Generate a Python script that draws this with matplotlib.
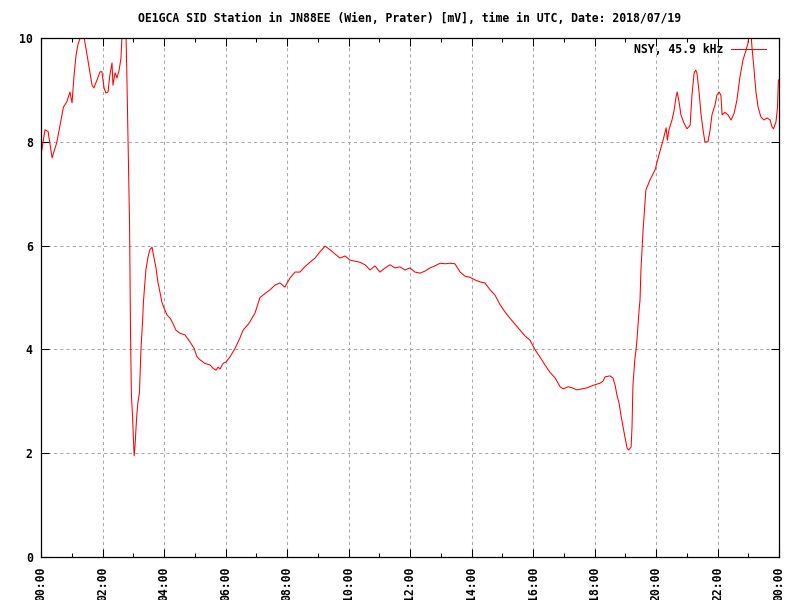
import matplotlib
matplotlib.use('Agg')
import matplotlib.pyplot as plt
from matplotlib.ticker import MultipleLocator, FuncFormatter

# time in hours (UTC) and signal in mV
hours = [0.00, 0.13, 0.23, 0.36, 0.51, 0.73, 0.84, 0.94, 1.01, 1.07, 1.14, 1.20,
         1.30, 1.40, 1.54, 1.66, 1.72, 1.82, 1.92, 1.98, 2.05, 2.11, 2.18, 2.24,
         2.31, 2.34, 2.41, 2.47, 2.54, 2.60, 2.67, 2.73, 2.79, 2.83, 2.88, 2.91,
         2.94, 2.98, 3.01, 3.03, 3.06, 3.09, 3.12, 3.15, 3.20, 3.22, 3.25, 3.28,
         3.31, 3.33, 3.38, 3.41, 3.48, 3.54, 3.61, 3.67, 3.74, 3.80, 3.87, 3.93,
         4.00, 4.10, 4.20, 4.29, 4.39, 4.52, 4.68, 4.85, 4.98, 5.07, 5.17, 5.33,
         5.50, 5.59, 5.69, 5.76, 5.82, 5.92, 6.02, 6.15, 6.31, 6.47, 6.57, 6.76,
         6.96, 7.12, 7.45, 7.61, 7.77, 7.93, 8.10, 8.26, 8.42, 8.59, 8.75, 8.91,
         9.07, 9.24, 9.40, 9.56, 9.72, 9.89, 10.05, 10.37, 10.54, 10.70, 10.86, 11.02,
         11.19, 11.35, 11.51, 11.67, 11.84, 12.00, 12.16, 12.33, 12.49, 12.65, 12.81, 12.98,
         13.14, 13.30, 13.46, 13.63, 13.79, 13.95, 14.11, 14.28, 14.44, 14.60, 14.76, 14.93,
         15.09, 15.25, 15.41, 15.58, 15.74, 15.90, 16.07, 16.23, 16.39, 16.55, 16.72, 16.88,
         16.98, 17.14, 17.27, 17.43, 17.59, 17.76, 17.92, 18.08, 18.18, 18.28, 18.34, 18.50,
         18.60, 18.67, 18.73, 18.80, 18.86, 18.93, 18.99, 19.06, 19.11, 19.19, 19.22, 19.25,
         19.31, 19.35, 19.38, 19.41, 19.45, 19.48, 19.51, 19.58, 19.67, 19.80, 19.97, 20.07,
         20.23, 20.33, 20.37, 20.42, 20.52, 20.59, 20.65, 20.69, 20.75, 20.81, 20.91, 21.01,
         21.11, 21.17, 21.24, 21.29, 21.33, 21.40, 21.46, 21.53, 21.59, 21.69, 21.76, 21.82,
         21.92, 21.98, 22.05, 22.11, 22.15, 22.24, 22.34, 22.44, 22.54, 22.63, 22.73, 22.83,
         22.93, 22.99, 23.04, 23.09, 23.12, 23.19, 23.25, 23.32, 23.41, 23.51, 23.61, 23.71,
         23.77, 23.82, 23.90, 23.95, 23.98]
nsy_mv = [7.75, 8.23, 8.20, 7.69, 7.98, 8.67, 8.77, 8.96, 8.75, 9.25, 9.67, 9.87,
          10.05, 10.02, 9.52, 9.09, 9.04, 9.19, 9.35, 9.35, 9.04, 8.94, 8.96, 9.29,
          9.52, 9.09, 9.33, 9.23, 9.38, 9.61, 10.50, 11.00, 9.35, 8.00, 6.40, 4.37,
          3.12, 2.68, 2.20, 1.95, 2.16, 2.49, 2.77, 2.97, 3.16, 3.47, 3.99, 4.32,
          4.62, 4.91, 5.30, 5.53, 5.78, 5.92, 5.97, 5.78, 5.57, 5.30, 5.10, 4.91,
          4.80, 4.66, 4.60, 4.50, 4.37, 4.31, 4.28, 4.14, 4.02, 3.86, 3.80, 3.73,
          3.70, 3.64, 3.60, 3.66, 3.62, 3.73, 3.76, 3.86, 4.02, 4.22, 4.37, 4.50,
          4.70, 5.00, 5.15, 5.24, 5.28, 5.20, 5.38, 5.49, 5.49, 5.60, 5.68, 5.76,
          5.88, 5.99, 5.92, 5.84, 5.76, 5.80, 5.72, 5.68, 5.63, 5.53, 5.61, 5.49,
          5.57, 5.63, 5.57, 5.59, 5.53, 5.57, 5.49, 5.47, 5.51, 5.57, 5.61, 5.66,
          5.65, 5.66, 5.65, 5.49, 5.41, 5.39, 5.34, 5.30, 5.28, 5.15, 5.05, 4.86,
          4.72, 4.60, 4.49, 4.37, 4.26, 4.18, 3.99, 3.85, 3.70, 3.56, 3.45, 3.28,
          3.24, 3.28, 3.26, 3.22, 3.24, 3.26, 3.30, 3.33, 3.35, 3.39, 3.47, 3.49,
          3.45, 3.31, 3.12, 2.96, 2.73, 2.50, 2.31, 2.10, 2.06, 2.12, 2.50, 3.31,
          3.80, 3.99, 4.18, 4.43, 4.76, 4.95, 5.53, 6.30, 7.07, 7.26, 7.46, 7.69,
          8.03, 8.27, 8.03, 8.23, 8.42, 8.61, 8.86, 8.96, 8.77, 8.52, 8.36, 8.25,
          8.32, 8.90, 9.33, 9.38, 9.33, 8.96, 8.55, 8.23, 8.00, 8.00, 8.23, 8.52,
          8.71, 8.90, 8.96, 8.90, 8.52, 8.57, 8.52, 8.42, 8.55, 8.80, 9.25, 9.58,
          9.77, 9.90, 10.10, 10.10, 9.83, 9.38, 8.96, 8.67, 8.48, 8.42, 8.46, 8.42,
          8.29, 8.25, 8.38, 8.65, 9.19]

title = 'OE1GCA SID Station in JN88EE (Wien, Prater) [mV], time in UTC, Date: 2018/07/19'
series_label = 'NSY, 45.9 kHz'

plt.rcParams['font.family'] = 'DejaVu Sans Mono'
plt.rcParams['font.weight'] = 'bold'
plt.rcParams['font.size'] = 8.3

fig = plt.figure(figsize=(8, 6), dpi=100)
ax = fig.add_axes([41 / 800, 43 / 600, 738 / 800, 519 / 600])

ax.plot(hours, nsy_mv, color='red', linewidth=0.75, label=series_label)

ax.set_xlim(0, 24)
ax.set_ylim(0, 10)

ax.xaxis.set_major_locator(MultipleLocator(2))
ax.xaxis.set_minor_locator(MultipleLocator(1))
ax.yaxis.set_major_locator(MultipleLocator(2))
ax.xaxis.set_major_formatter(FuncFormatter(lambda v, p: '%02d:00' % (int(round(v)) % 24)))

ax.tick_params(axis='both', which='major', direction='in', length=6, width=0.75,
               top=True, right=True, colors='black')
ax.tick_params(axis='x', which='minor', direction='in', length=3, width=0.75, top=True)
ax.tick_params(axis='x', labelrotation=90, pad=7)
ax.tick_params(axis='y', pad=6)

# gnuplot style dotted grid
ax.grid(True, which='major', color='#a8a8a8', linestyle=(0, (3, 3)), linewidth=0.75)
for s in ax.spines.values():
    s.set_linewidth(0.9)

fig.text(410 / 800, 1 - 18 / 600, title, ha='center', va='center', fontsize=8.3,
         fontweight='bold')

leg = ax.legend(loc='upper right', bbox_to_anchor=(1 - 13 / 738, 1 - 5 / 519),
                frameon=False, markerfirst=False, borderaxespad=0, borderpad=0,
                handlelength=3.0, handletextpad=0.7)

plt.savefig('out.png', dpi=100)
